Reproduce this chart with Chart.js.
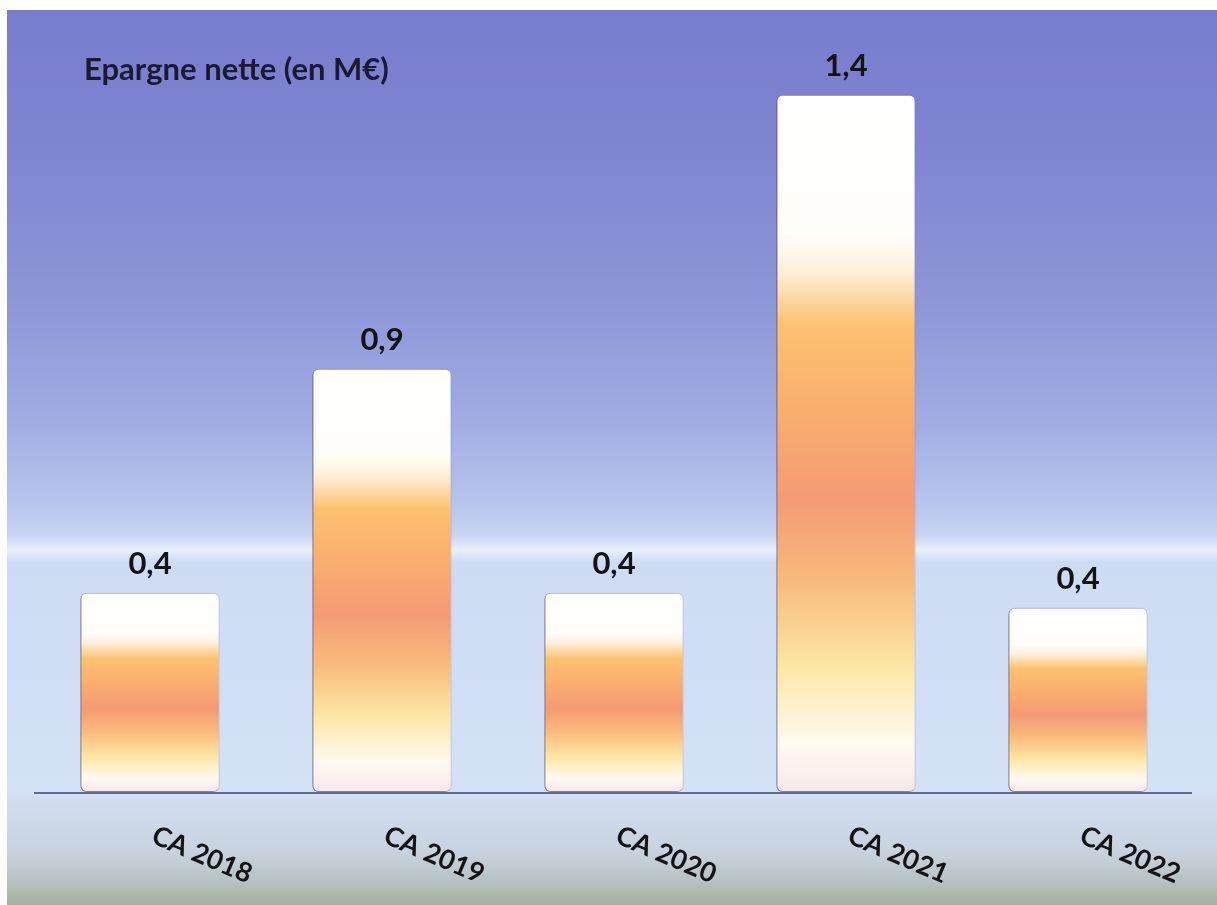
<!DOCTYPE html>
<html>
<head>
<meta charset="utf-8">
<script src="https://cdn.jsdelivr.net/npm/chart.js@4/dist/chart.umd.min.js"></script>
<style>
html,body{margin:0;padding:0;background:#fff;}
#wrap{width:1217px;height:905px;position:relative;}
</style>
</head>
<body>
<div id="wrap"><canvas id="c" width="1217" height="905"></canvas></div>
<script>
const categories = ["CA 2018", "CA 2019", "CA 2020", "CA 2021", "CA 2022"];
const values = [0.40, 0.85, 0.40, 1.40, 0.37];
const valueLabels = ["0,4", "0,9", "0,4", "1,4", "0,4"];
const chartTitle = "Epargne nette (en M€)";

const FONT = "Lato, 'Open Sans', sans-serif";

function barGradient(ctx, top, bottom) {
  const g = ctx.createLinearGradient(0, top, 0, bottom);
  g.addColorStop(0.00, '#ffffff');
  g.addColorStop(0.20, '#fffdf8');
  g.addColorStop(0.25, '#fdf1dc');
  g.addColorStop(0.33, '#fcc270');
  g.addColorStop(0.45, '#f9ae6e');
  g.addColorStop(0.58, '#f49a74');
  g.addColorStop(0.70, '#f8bb7c');
  g.addColorStop(0.82, '#fde6a4');
  g.addColorStop(0.93, '#fffaf0');
  g.addColorStop(1.00, '#f6e8ea');
  return g;
}

const bgPlugin = {
  id: 'bg',
  beforeDraw(chart) {
    const ctx = chart.ctx;
    const W = chart.width, H = chart.height;
    ctx.save();
    ctx.fillStyle = '#ffffff';
    ctx.fillRect(0, 0, W, H);
    const top = 10, left = 7;
    const g = ctx.createLinearGradient(0, top, 0, H);
    const span = H - top;
    const s = y => Math.min(1, Math.max(0, (y - top) / span));
    g.addColorStop(0, '#787ccd');
    g.addColorStop(s(150), '#8085d1');
    g.addColorStop(s(300), '#8d96d8');
    g.addColorStop(s(420), '#a0ace2');
    g.addColorStop(s(500), '#b6c3ec');
    g.addColorStop(s(535), '#c6d3f1');
    g.addColorStop(s(550), '#e8effb');
    g.addColorStop(s(562), '#cddbf3');
    g.addColorStop(s(700), '#d1dff6');
    g.addColorStop(s(790), '#d4e2f5');
    g.addColorStop(s(800), '#d1ddef');
    g.addColorStop(s(850), '#c8d3e0');
    g.addColorStop(s(880), '#b8c3c4');
    g.addColorStop(1, '#a5b19c');
    ctx.fillStyle = g;
    ctx.fillRect(left, top, W - left, H - top);
    ctx.restore();
  },
  beforeDatasetsDraw(chart) {
    const ctx = chart.ctx;
    const a = chart.chartArea;
    ctx.save();
    ctx.strokeStyle = '#5f6d8c';
    ctx.lineWidth = 2;
    ctx.beginPath();
    ctx.moveTo(a.left, a.bottom + 1);
    ctx.lineTo(a.right - 2, a.bottom + 1);
    ctx.stroke();
    ctx.restore();
    ctx.save();
    ctx.shadowColor = 'rgba(60,50,80,0.6)';
    ctx.shadowBlur = 4;
    ctx.shadowOffsetX = -3;
    ctx.shadowOffsetY = 2;
  },
  afterDatasetsDraw(chart) {
    const ctx = chart.ctx;
    ctx.restore();
    const meta = chart.getDatasetMeta(0);
    ctx.save();
    ctx.fillStyle = '#141414';
    ctx.font = "bold 31px " + FONT;
    ctx.textAlign = 'center';
    ctx.textBaseline = 'middle';
    meta.data.forEach((bar, i) => {
      ctx.fillText(valueLabels[i], bar.x, bar.y - 29);
    });
    // x category labels, rotated clockwise
    const xs = chart.scales.x;
    const a = chart.chartArea;
    ctx.font = "bold 27px " + FONT;
    categories.forEach((c, i) => {
      const x = xs.getPixelForTick(i);
      ctx.save();
      ctx.translate(x + 52, a.bottom + 63);
      ctx.rotate(23 * Math.PI / 180);
      ctx.fillText(c, 0, 0);
      ctx.restore();
    });
    // title
    ctx.font = "bold 31px " + FONT;
    ctx.textAlign = 'left';
    ctx.fillStyle = '#1a1a30';
    ctx.fillText(chartTitle, 84, 70);
    ctx.restore();
  }
};

new Chart(document.getElementById('c'), {
  type: 'bar',
  data: {
    labels: categories,
    datasets: [{
      data: values,
      backgroundColor(context) {
        const chart = context.chart;
        if (!chart.chartArea) return '#f9b06e';
        const y = chart.scales.y;
        const v = context.raw;
        return barGradient(chart.ctx, y.getPixelForValue(v), y.getPixelForValue(0));
      },
      borderColor: 'rgba(180,130,140,0.35)',
      borderWidth: 1,
      borderRadius: 6,
      borderSkipped: false,
      barPercentage: 0.6,
      categoryPercentage: 1.0
    }]
  },
  options: {
    responsive: false,
    animation: false,
    devicePixelRatio: 1,
    layout: { padding: { left: 34, right: 23, top: 45, bottom: 113 } },
    scales: {
      x: { display: false },
      y: { display: false, min: 0, max: 1.5 }
    },
    plugins: {
      legend: { display: false },
      tooltip: { enabled: false },
      title: { display: false }
    }
  },
  plugins: [bgPlugin]
});
</script>
</body>
</html>
